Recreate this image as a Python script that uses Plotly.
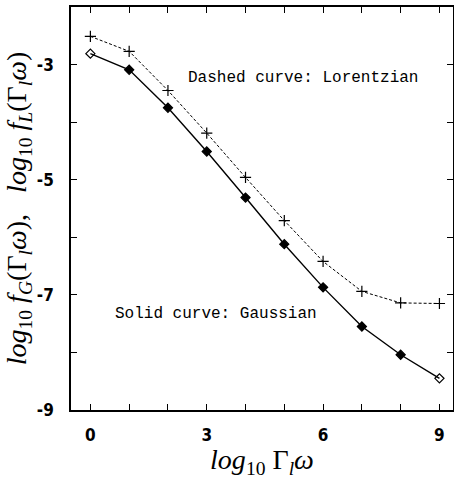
import plotly.graph_objects as go

x_vals = [0, 1, 2, 3, 4, 5, 6, 7, 8, 9]
gaussian = [-2.81, -3.09, -3.75, -4.51, -5.31, -6.12, -6.87, -7.55, -8.04, -8.45]
lorentzian = [-2.51, -2.77, -3.45, -4.19, -4.96, -5.71, -6.42, -6.94, -7.14, -7.15]

x_tickvals = [0, 1, 2, 3, 4, 5, 6, 7, 8, 9]
x_ticktext = ["0", "", "", "3", "", "", "6", "", "", "9"]
y_tickvals = [-9, -8, -7, -6, -5, -4, -3]
y_ticktext = ["-9", "", "-7", "", "-5", "", "-3"]

fig = go.Figure()
fig.add_trace(go.Scatter(
    x=x_vals, y=lorentzian, mode="lines+markers",
    line=dict(color="black", width=1, dash="3px,2px"),
    marker=dict(symbol="cross-thin", size=8, line=dict(color="black", width=1.2)),
    showlegend=False, cliponaxis=False,
))
fig.add_trace(go.Scatter(
    x=x_vals, y=gaussian, mode="lines+markers",
    line=dict(color="black", width=1.4),
    marker=dict(symbol=["diamond-open"] + ["diamond"] * 8 + ["diamond-open"],
                size=7, color="black", line=dict(color="black", width=1.2)),
    showlegend=False, cliponaxis=False,
))

W, H = 454, 479
ml, mr, mt, mb = 71, 1, 7, 69
pw, ph = W - ml - mr, H - mt - mb

def px_to_paper(px, py):
    return (px - ml) / pw, 1 - (py - mt) / ph

ann_font = dict(family="Liberation Mono", size=16, color="black")
ax_, ay_ = px_to_paper(303, 67)
fig.add_annotation(x=ax_, y=ay_, xref="paper", yref="paper", text="Dashed curve: Lorentzian",
                   showarrow=False, font=ann_font)
ax_, ay_ = px_to_paper(216, 325)
fig.add_annotation(x=ax_, y=ay_, xref="paper", yref="paper", text="Solid curve: Gaussian",
                   showarrow=False, font=ann_font)

tick_font = dict(family="Liberation Sans Narrow, DejaVu Sans Condensed, Liberation Sans",
                 size=17, color="black", weight="bold")
title_font = dict(family="Liberation Serif", size=28, color="black")

fig.update_layout(
    width=W, height=H,
    margin=dict(l=ml, r=mr, t=mt, b=mb),
    plot_bgcolor="white", paper_bgcolor="white",
    xaxis=dict(
        range=[-0.5, 9.35], tickvals=x_tickvals, ticktext=x_ticktext,
        ticks="inside", ticklen=6, tickwidth=1.2, tickcolor="black",
        showline=True, linecolor="black", linewidth=1.5, mirror="ticks",
        showgrid=False, zeroline=False, automargin=False,
        tickfont=tick_font, ticklabelstandoff=9,
        title=dict(text="<i>log</i><sub>10</sub> Γ<sub><i>l</i></sub><i>ω</i>",
                   font=title_font, standoff=2),
    ),
    yaxis=dict(
        range=[-9, -2], tickvals=y_tickvals, ticktext=y_ticktext,
        ticks="inside", ticklen=6, tickwidth=1.2, tickcolor="black",
        showline=True, linecolor="black", linewidth=1.5, mirror="ticks",
        showgrid=False, zeroline=False, automargin=False,
        tickfont=tick_font, ticklabelstandoff=12,
        title=dict(text="<i>log</i><sub>10</sub> <i>f</i><sub><i>G</i></sub>(Γ<sub><i>l</i></sub><i>ω</i>),   "
                        "<i>log</i><sub>10</sub> <i>f</i><sub><i>L</i></sub>(Γ<sub><i>l</i></sub><i>ω</i>)",
                   font=title_font, standoff=2),
    ),
)

fig.write_html("out.html", config={"displayModeBar": False},
               post_script="document.body.style.margin='0';")
